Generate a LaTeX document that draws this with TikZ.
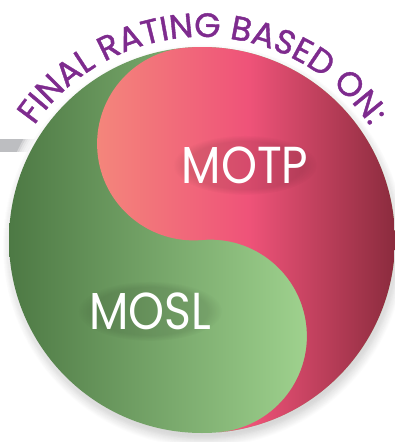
\documentclass[tikz,border=0pt]{standalone}
\usepackage{fontspec}
\setmainfont{Poppins}
\newfontfamily\headfont{Poppins}[FakeBold=1.2]
\usetikzlibrary{decorations.text,calc,fadings}
\definecolor{ringpurple}{HTML}{7E2B8E}
\definecolor{bargray}{HTML}{BDBEC1}
\definecolor{greendark}{HTML}{4D7944}
\definecolor{greenlight}{HTML}{B7ECA4}
\definecolor{pinkleft}{HTML}{F4877B}
\definecolor{pinkmid}{HTML}{EF5379}
\definecolor{pinkright}{HTML}{85293A}
\pgfdeclarehorizontalshading{pinkshade}{100bp}{color(0bp)=(pinkleft); color(25bp)=(pinkleft); color(50bp)=(pinkmid); color(75bp)=(pinkright); color(100bp)=(pinkright)}
\tikzset{
  lbl/.style={text=white, font=\fontsize{52}{52}\selectfont, inner sep=0pt, anchor=center, xscale=0.88, transform shape},
  lblglow/.style={fill=black, opacity=0.1, path fading=circle with fuzzy edge 20 percent}
}
\begin{document}
\begin{tikzpicture}[x=1pt,y=1pt]
\useasboundingbox (0,0) rectangle (395,-442);
\coordinate (C) at (202,-240);
\def\R{193}
\def\r{96.5}
% grey rule coming in from the left
\fill[bargray] (0,-139) rectangle (120,-152);
% soft white halo around the disc
\foreach \k in {12,10,...,2} \fill[white,opacity=0.35] (C) circle (\R+\k);
\fill[white] (C) circle (\R+2);
% soft drop shadow
\foreach \k in {0,...,12} \fill[black,opacity=0.012] ($(C)+(2,-6)$) circle (\R+\k-4);
% green disc
\shade[left color=greendark, right color=greenlight] (C) circle (\R);
% pink half of the S-shaped split
\shade[shading=pinkshade]
  ($(C)+(95:\R)$) arc[start angle=95, end angle=-85, radius=\R]
  arc[start angle=-85, end angle=95, radius=\r]
  arc[start angle=275, end angle=95, radius=\r] -- cycle;
% curved heading
\path[decorate, decoration={text along path, text align=center,
  text={|\headfont\fontsize{33.8}{33.8}\selectfont\color{ringpurple}|FINAL RATING BASED ON:}}]
  ($(C)+(162:203)$) arc[start angle=162, end angle=17.7, radius=203];
% faint dark glow behind the labels
\fill[lblglow] (245,-165) ellipse (72 and 30);
\fill[lblglow] (150,-311) ellipse (72 and 30);
\node[lbl] (motp) at (245,-165) {MOTP};
\node[lbl] (mosl) at (150,-311) {MOSL};
\end{tikzpicture}
\end{document}
